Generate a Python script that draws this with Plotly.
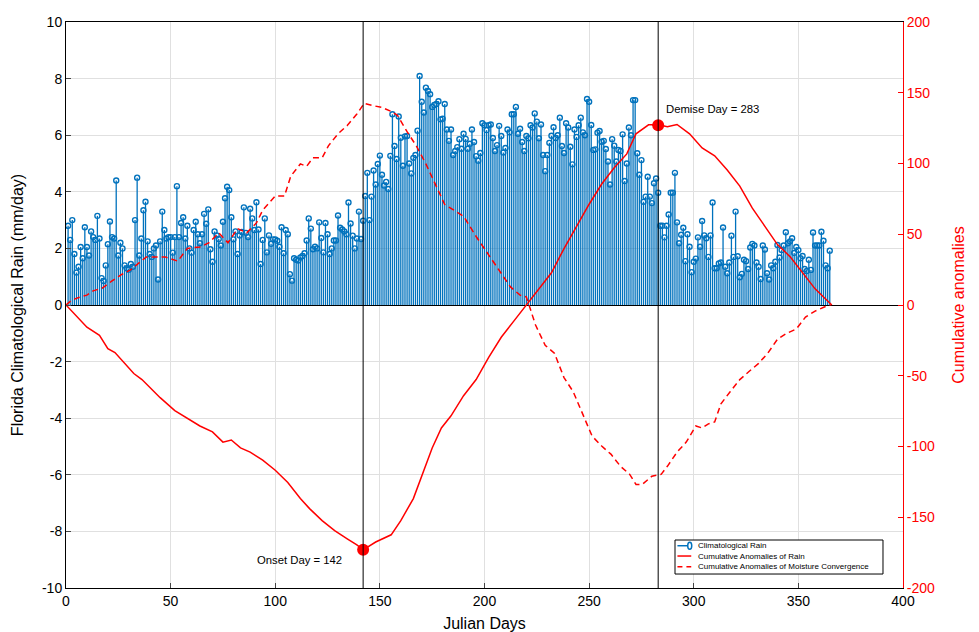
import plotly.graph_objects as go

# ---------------- data ----------------
rain = [
    2.8, 2.3, 3.0, 1.8, 1.15, 1.35, 2.05, 1.65, 2.75, 2.05,
    1.75, 2.6, 2.4, 2.3, 3.15, 2.35, 0.95, 0.85, 1.4, 2.15,
    2.95, 2.4, 2.35, 4.4, 1.75, 2.2, 2.0, 1.4, 1.3, 1.25,
    1.45, 1.35, 3.0, 4.5, 1.75, 2.35, 3.35, 3.65, 2.25, 1.8,
    1.7, 2.0, 2.1, 0.9, 2.25, 3.3, 2.65, 2.35, 2.4, 2.4,
    1.85, 2.4, 4.2, 2.4, 2.9, 3.1, 2.35, 2.8, 2.0, 1.85,
    2.65, 2.94, 2.5, 2.18, 2.5, 3.22, 2.87, 3.38, 1.97, 1.53,
    2.6, 2.46, 2.33, 2.1, 2.94, 3.77, 4.18, 4.06, 3.1, 2.32,
    2.6, 1.8, 2.46, 2.58, 3.45, 2.55, 2.4, 3.4, 3.06, 2.65,
    3.63, 2.67, 1.45, 2.3, 3.06, 1.86, 2.46, 2.16, 2.32, 2.32,
    2.27, 2.06, 2.75, 1.83, 2.65, 2.5, 1.09, 0.86, 1.65, 1.6,
    1.57, 1.68, 1.73, 1.83, 2.28, 3.06, 2.7, 1.97, 2.06, 2.0,
    2.92, 2.37, 1.86, 2.9, 2.5, 1.8, 2.0, 2.28, 2.28, 3.16,
    2.73, 2.67, 2.6, 2.5, 3.62, 2.88, 2.45, 2.0, 2.35, 3.3,
    2.33, 2.98, 3.85, 4.67, 3.0, 3.83, 4.75, 4.26, 4.98, 5.28,
    4.6, 4.22, 4.35, 4.1, 5.27, 6.74, 5.62, 5.16, 6.66, 5.91,
    4.92, 5.96, 5.97, 5.0, 4.65, 5.2, 5.3, 6.16, 8.09, 7.18,
    6.8, 7.68, 7.56, 7.45, 7.0, 7.07, 7.1, 7.2, 6.56, 6.58,
    7.1, 6.2, 5.8, 6.2, 5.3, 5.44, 5.58, 5.86, 5.52, 6.05,
    5.87, 5.52, 5.7, 6.2, 5.76, 5.26, 5.1, 5.37, 6.42, 6.35,
    6.18, 6.35, 6.38, 5.9, 5.44, 5.65, 6.33, 5.97, 5.39, 5.55,
    6.2, 6.1, 6.74, 6.74, 7.0, 6.05, 6.23, 5.76, 5.44, 5.97,
    5.89, 6.35, 6.27, 6.77, 6.48, 5.89, 6.38, 5.3, 4.73, 5.3,
    5.73, 5.98, 6.28, 5.9, 6.0, 6.62, 5.62, 5.37, 6.42, 6.27,
    5.59, 4.97, 6.2, 5.94, 6.35, 6.62, 6.1, 6.0, 7.28, 7.18,
    6.36, 5.48, 5.5, 6.09, 6.15, 5.77, 5.8, 5.51, 5.07, 4.26,
    5.86, 5.63, 5.07, 5.48, 5.44, 6.03, 4.38, 5.0, 6.27, 6.0,
    7.24, 7.24, 5.36, 4.6, 5.12, 3.65, 3.83, 4.53, 3.83, 3.6,
    4.3, 4.47, 3.97, 2.8, 2.8, 2.39, 2.8, 3.2, 3.97, 3.97,
    4.67, 2.92, 2.18, 2.48, 2.73, 1.55, 2.5, 2.06, 1.16, 1.53,
    1.64, 2.39, 2.06, 2.97, 2.46, 2.36, 1.7, 2.46, 3.62, 1.3,
    1.3, 1.47, 1.5, 2.74, 1.35, 1.12, 1.5, 2.45, 1.7, 3.3,
    1.72, 0.98, 1.1, 1.6, 1.55, 1.27, 2.03, 2.16, 2.1, 1.5,
    1.35, 0.92, 2.1, 1.96, 1.12, 0.9, 1.4, 1.3, 1.53, 2.12,
    1.68, 1.94, 2.1, 2.57, 2.18, 2.25, 2.36, 1.84, 2.05, 1.94,
    1.65, 1.73, 1.27, 1.2, 1.6, 1.24, 2.56, 2.1, 2.1, 2.1,
    2.59, 2.27, 1.4, 1.3, 1.92,
]
days = list(range(1, len(rain) + 1))

# cumulative anomalies of rain
cum_rain_days = [0, 5.4, 10, 16, 20, 23.4, 28, 32.4, 36.3, 40, 45, 52, 58, 64, 70, 75, 79,
                 83.4, 88, 94, 100, 106, 112, 116.4, 122.4, 128.4, 134.4, 139, 142, 148,
                 155.4, 160, 166, 170.4, 175, 179.4, 184, 190, 196, 202, 208, 214, 220,
                 226, 232, 238, 244, 250, 256, 262, 268, 272.4, 278.4, 283, 287.4, 292,
                 298, 304, 310, 316, 322, 328, 334, 340, 346, 352, 358, 364, 366]
cum_rain_vals = [0, -8.5, -15.7, -21.4, -30.8, -33.6, -41, -48.4, -52.7, -58.4, -65.5, -74.6,
                 -79.8, -85.5, -89.7, -96.9, -95.4, -101, -104, -109.7, -116.8, -125.4,
                 -136.8, -143.9, -152.4, -159.5, -165.2, -169.5, -173, -167.5, -162.4,
                 -152.4, -136.8, -119.7, -101, -86.9, -78.3, -64.1, -52.7, -37, -22.8,
                 -11.4, 0, 11.4, 22.8, 39.9, 55.6, 71.2, 85.5, 97, 106.8, 121, 127.3,
                 127.3, 126, 127.6, 121, 111, 105.4, 95.4, 84, 68.4, 55.6, 42.7, 34.2,
                 22.8, 11.4, 2.8, 0]

# cumulative anomalies of moisture convergence
cum_mc_days = [0, 2.4, 5.4, 10, 13, 17.4, 22, 26.4, 31, 34, 38.4, 43, 47.4, 53.4, 58, 64,
               68.4, 73, 77.4, 82, 86.4, 91, 94, 100, 104.4, 107.4, 112, 115, 118, 122.4,
               125.4, 130, 134.4, 139, 142.5, 146.4, 151, 155.4, 158.4, 163, 167.4, 172,
               176.4, 181, 185.4, 190, 196, 202, 208, 212.4, 217, 220, 224.4, 229, 233.4,
               238, 242.4, 247, 251.4, 256, 260.4, 265, 269.4, 272.4, 275.4, 280, 284.4,
               287.4, 292, 296.4, 301, 304, 307, 310, 313, 317.4, 322, 326.4, 331, 335.4,
               340, 344.4, 349, 353.4, 358, 362.4, 365.4]
cum_mc_vals = [0, 3, 5, 7, 10, 12, 17, 21.4, 25, 28.5, 34, 34, 34, 31, 40, 41, 44, 51, 44,
               54, 51, 58, 67, 77, 77, 91, 99.7, 98, 104, 104, 112.5, 121, 126.8, 135,
               142.5, 141, 139.6, 136.8, 134, 122.5, 112.5, 99.7, 85.5, 71, 67, 62.7,
               48.4, 35.6, 22.8, 12.8, 7, 5.7, -14.2, -28.5, -34, -51.3, -61.3, -77,
               -92.6, -99.7, -105.4, -114, -119.7, -126.8, -126.8, -121, -119.7, -114,
               -104, -96.9, -85.5, -86.9, -84, -82.6, -69.8, -61.3, -52.7, -47, -41.3,
               -34, -24.2, -20, -17, -8.5, -4.3, -1.4, 0]

onset_day, onset_val = 142, -173
demise_day, demise_val = 283, 127

x_ticks = [0, 50, 100, 150, 200, 250, 300, 350, 400]
y_ticks = [-10, -8, -6, -4, -2, 0, 2, 4, 6, 8, 10]
y2_ticks = [-200, -150, -100, -50, 0, 50, 100, 150, 200]
legend_labels = ["Climatological Rain", "Cumulative Anomalies of Rain",
                 "Cumulative Anomalies of Moisture Convergence"]

BLUE = "#0072BD"
RED = "#FF0000"
FONT = "Liberation Sans, Arial, sans-serif"

# stems built from data
stem_x, stem_y = [], []
for d, v in zip(days, rain):
    stem_x += [d, d, None]
    stem_y += [0, v, None]

fig = go.Figure()
fig.add_trace(go.Scatter(x=stem_x, y=stem_y, mode="lines",
                         line=dict(color=BLUE, width=1.3),
                         showlegend=False, hoverinfo="skip"))
fig.add_trace(go.Scatter(x=days, y=rain, mode="markers",
                         marker=dict(symbol="circle-open", size=5, color=BLUE,
                                     line=dict(width=1.4, color=BLUE)),
                         showlegend=False, name=legend_labels[0]))
fig.add_trace(go.Scatter(x=cum_rain_days, y=cum_rain_vals, mode="lines",
                         name=legend_labels[1], showlegend=False,
                         line=dict(color=RED, width=1.5), yaxis="y2"))
fig.add_trace(go.Scatter(x=cum_mc_days, y=cum_mc_vals, mode="lines",
                         name=legend_labels[2], showlegend=False,
                         line=dict(color=RED, width=1.5, dash="6px,4px"), yaxis="y2"))
fig.add_trace(go.Scatter(x=[onset_day, demise_day], y=[onset_val, demise_val],
                         mode="markers", marker=dict(color=RED, size=12),
                         showlegend=False, yaxis="y2"))

shapes = []
for d in (onset_day, demise_day):
    shapes.append(dict(type="line", x0=d, x1=d, y0=0, y1=1, xref="x", yref="paper",
                       line=dict(color="black", width=1), layer="above"))

# compact legend box (paper coordinates)
lx0, lx1, ly0, ly1 = 0.7276, 0.9761, 0.0247, 0.0848
shapes.append(dict(type="rect", x0=lx0, x1=lx1, y0=ly0, y1=ly1, xref="paper", yref="paper",
                   line=dict(color="black", width=1), fillcolor="white", layer="above"))
row_y = [0.0747, 0.0565, 0.0376]
sx0, sx1 = 0.7305, 0.7470
shapes.append(dict(type="line", x0=sx0, x1=sx1, y0=row_y[0], y1=row_y[0], xref="paper",
                   yref="paper", line=dict(color=BLUE, width=1.5), layer="above"))
shapes.append(dict(type="circle", x0=sx1 - 0.0042, x1=sx1 + 0.0006,
                   y0=row_y[0] - 0.0062, y1=row_y[0] + 0.0062, xref="paper", yref="paper",
                   line=dict(color=BLUE, width=1.5), fillcolor="white", layer="above"))
shapes.append(dict(type="line", x0=sx0, x1=sx1, y0=row_y[1], y1=row_y[1], xref="paper",
                   yref="paper", line=dict(color=RED, width=1.5), layer="above"))
shapes.append(dict(type="line", x0=sx0, x1=sx1, y0=row_y[2], y1=row_y[2], xref="paper",
                   yref="paper", line=dict(color=RED, width=1.5, dash="5px,4px"),
                   layer="above"))

annotations = [
    dict(x=onset_day - 9, y=-9.0, xref="x", yref="y", text="Onset Day = 142",
         showarrow=False, xanchor="right", yanchor="middle", font=dict(size=11.3)),
    dict(x=demise_day + 3, y=6.93, xref="x", yref="y", text="Demise Day = 283",
         showarrow=False, xanchor="left", yanchor="middle", font=dict(size=11.3)),
]
for lab, ry in zip(legend_labels, row_y):
    annotations.append(dict(x=0.7530, y=ry, xref="paper", yref="paper", text=lab,
                            showarrow=False, xanchor="left", yanchor="middle",
                            font=dict(size=8)))

# page body has an 8px margin; compensate so the plot area lands at x 66-903, y 22-588
fig.update_layout(
    width=971, height=624,
    margin=dict(l=58, r=76, t=14, b=44),
    paper_bgcolor="white", plot_bgcolor="white",
    font=dict(family=FONT, size=14, color="black"),
    showlegend=False,
    shapes=shapes,
    annotations=annotations,
    xaxis=dict(range=[0, 400], tickvals=x_ticks, ticktext=[str(t) for t in x_ticks],
               ticks="inside", ticklen=5,
               showline=True, linecolor="black", linewidth=1, mirror=True,
               showgrid=True, gridcolor="#E0E0E0", zeroline=False,
               tickfont=dict(size=14), automargin=False,
               title=dict(text="Julian Days", font=dict(size=16), standoff=10)),
    yaxis=dict(range=[-10, 10], tickvals=y_ticks, ticktext=[str(t) for t in y_ticks],
               ticks="inside", ticklen=5,
               showline=True, linecolor="black", linewidth=1,
               showgrid=True, gridcolor="#E0E0E0",
               zeroline=True, zerolinecolor="black", zerolinewidth=1,
               tickfont=dict(size=14), automargin=False,
               title=dict(text="Florida Climatological Rain (mm/day)",
                          font=dict(size=16), standoff=14)),
    yaxis2=dict(range=[-200, 200], tickvals=y2_ticks, ticktext=[str(t) for t in y2_ticks],
                overlaying="y", side="right",
                ticks="inside", ticklen=5, tickcolor=RED,
                showline=True, linecolor=RED, linewidth=1,
                showgrid=False, zeroline=False, automargin=False,
                tickfont=dict(size=14, color=RED),
                title=dict(text="Cumulative anomalies", font=dict(size=16, color=RED),
                           standoff=18)),
)

fig.write_html("out.html")
